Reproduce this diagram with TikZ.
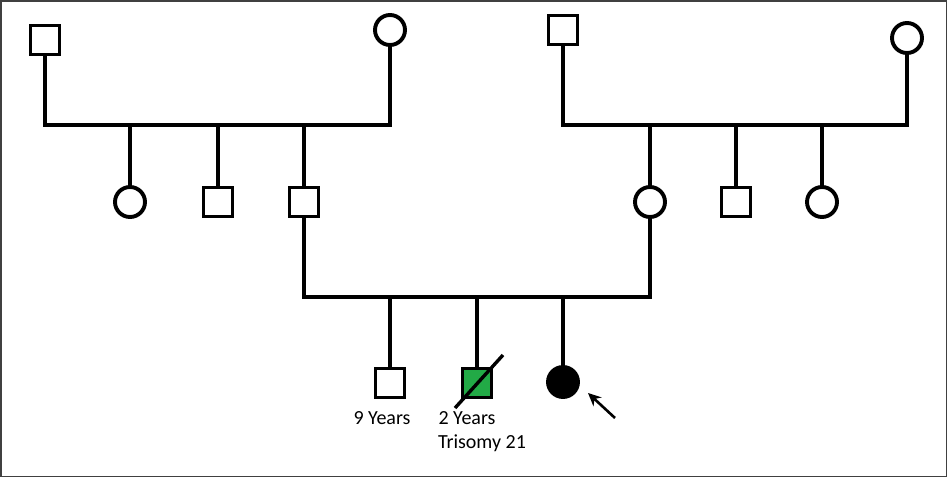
\documentclass[tikz,border=0pt]{standalone}
\usepackage{fontspec}
\usetikzlibrary{arrows.meta}
\setmainfont{Carlito}
\definecolor{affgreen}{RGB}{34,170,70}
\begin{document}
\begin{tikzpicture}[x=1pt,y=-1pt,
  lw/.style={line width=3.9pt},
  male/.style={draw,lw,rectangle,minimum size=29pt,inner sep=0pt,fill=white},
  female/.style={draw,lw,circle,minimum size=30pt,inner sep=0pt,fill=white},
  conn/.style={lw},
  lab/.style={font=\fontsize{20}{22}\selectfont,inner sep=0pt}]
\useasboundingbox (0,0) rectangle (947,477);
\draw[line width=1.5pt,black!75] (0.75,0.75) rectangle (946.25,476.25);
% generation I
\node[male] (gf1) at (45,40) {};
\node[female] (gm1) at (390,30) {};
\node[male] (gf2) at (563,30) {};
\node[female] (gm2) at (907,38) {};
\coordinate (c1l) at (45,125);
\coordinate (c1r) at (390,125);
\coordinate (c2l) at (563,125);
\coordinate (c2r) at (907,125);
% generation II
\node[female] (a1) at (130,202) {};
\node[male] (a2) at (218,202) {};
\node[male] (fa) at (304,202) {};
\node[female] (mo) at (650,202) {};
\node[male] (b2) at (736,202) {};
\node[female] (b3) at (822,202) {};
% generation III
\node[male] (s1) at (390,383) {};
\node[male,fill=affgreen] (s2) at (477,383) {};
\node[female,fill=black] (pr) at (563,382) {};
\coordinate (m3l) at (304,297);
\coordinate (m3r) at (650,297);
% connectors gen I
\draw[conn] (gf1.south) -- (c1l) -- (c1r) -- (gm1.south);
\draw[conn] (gf2.south) -- (c2l) -- (c2r) -- (gm2.south);
\draw[conn] (a1.north) -- (a1.north |- c1l);
\draw[conn] (a2.north) -- (a2.north |- c1l);
\draw[conn] (fa.north) -- (fa.north |- c1l);
\draw[conn] (mo.north) -- (mo.north |- c2l);
\draw[conn] (b2.north) -- (b2.north |- c2l);
\draw[conn] (b3.north) -- (b3.north |- c2l);
% couple
\draw[conn] (fa.south) -- (m3l) -- (m3r) -- (mo.south);
\draw[conn] (s1.north) -- (s1.north |- m3l);
\draw[conn] (s2.north) -- (s2.north |- m3l);
\draw[conn] (pr.north) -- (pr.north |- m3l);
% deceased slash
\coordinate (d1) at (455,408);
\coordinate (d2) at (503,355);
\draw[line width=3.4pt] (d1) -- (d2);
% proband arrow
\coordinate (arT) at (615,418);
\coordinate (arH) at (588,393);
\draw[line width=2.6pt,-{Stealth[length=13pt,width=12pt]}] (arT) -- (arH);
% labels
\node[lab] (l1) at (382,418) {9 Years};
\node[lab] (l2) at (467,418) {2 Years};
\node[lab] (l3) at (482,443) {Trisomy 21};
\end{tikzpicture}
\end{document}
